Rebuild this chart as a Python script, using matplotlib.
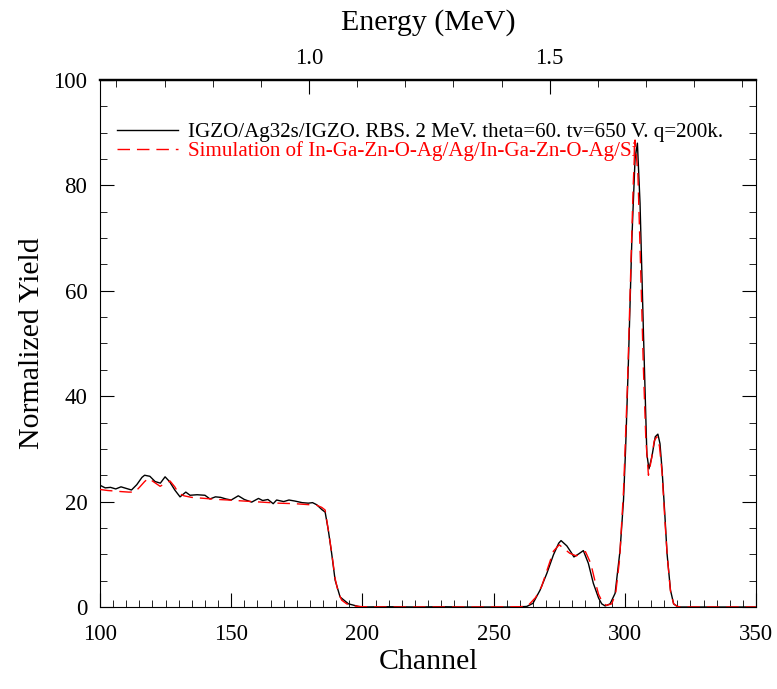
import numpy as np
import matplotlib
matplotlib.use('Agg')
import matplotlib.pyplot as plt

# Measured RBS spectrum (channel, normalized yield)
ch_meas = [100, 102, 104, 106, 108, 110, 112, 114, 116, 117, 119, 121, 123, 124.8, 126.5,
           128.5, 130.5, 132.7, 134.3, 137, 140, 141.9, 144, 146, 148, 150, 152.7, 155,
           157.8, 160.4, 162, 164, 166, 167.3, 170, 172, 174.3, 177, 179.4, 181, 182.6,
           184.5, 185.8, 187, 188.3, 189.6, 191.5, 194.7, 198.5, 200, 210, 220, 230, 240,
           250, 258, 262.6, 265, 267.7, 270.3, 272.8, 274.8, 275.7, 277.9, 279.5, 280.6,
           282.5, 284.2, 286.1, 288, 290, 291.2, 292.5, 294.4, 296.3, 298.2, 299.5, 300.3,
           301.4, 302.7, 303.9, 304.8, 305.8, 307.1, 308.4, 309.2, 310.3, 311.6, 312.6,
           313.4, 314.2, 315.2, 316.1, 317.4, 318.6, 320, 321.2, 330, 340, 350]
y_meas = [23.1, 22.6, 22.7, 22.4, 22.8, 22.5, 22.2, 23.2, 24.6, 25.0, 24.8, 23.8, 23.5, 24.7, 23.8,
          22.2, 20.9, 21.8, 21.2, 21.3, 21.2, 20.5, 20.9, 20.8, 20.5, 20.3, 21.1, 20.4,
          19.9, 20.6, 20.2, 20.4, 19.6, 20.3, 20.0, 20.3, 20.1, 19.8, 19.7, 19.8, 19.4,
          18.5, 18.0, 14.6, 10.1, 5.1, 1.9, 0.6, 0.1, 0.0, 0.05, 0.0, 0.05, 0.0,
          0.0, 0.0, 0.1, 0.7, 3.2, 6.4, 9.9, 12.1, 12.6, 11.6, 10.4, 9.5,
          10.1, 10.7, 8.3, 4.5, 1.7, 0.6, 0.2, 0.6, 2.6, 10.8, 20.3, 30.0,
          47.0, 70.0, 85.0, 88.0, 76.6, 52.0, 29.0, 26.2, 28.5, 32.3, 32.8,
          31.0, 26.0, 18.0, 10.1, 3.2, 0.6, 0.1, 0.0, 0.0, 0.0, 0.0]

# Simulated spectrum
ch_sim = [100, 103, 105.7, 108, 111, 113.3, 115.2, 117, 118.4, 120, 122.9, 125, 126.7, 128.5,
          129.9, 132, 134.9, 140, 145, 148.9, 155, 161.6, 168, 174.3, 180, 182.6, 184.5,
          185.8, 187, 188.3, 189.6, 190.8, 192.1, 194, 197, 200, 210, 230, 250, 260, 263,
          266, 268.3, 270.5, 272.8, 275, 277, 279, 281.5, 283.5, 285, 287, 288.5, 290, 291.5,
          293, 295, 296.5, 298, 299.5, 301, 302.5, 303.2, 303.9, 305, 306.5, 307.1, 308, 309,
          310.2, 311.2, 312.2, 313.2, 314.2, 315.2, 316.2, 317.4, 318.6, 320, 322, 330,
          340, 350]
y_sim = [22.3, 22.1, 22.0, 21.9, 21.8, 21.8, 22.8, 23.8, 24.4, 23.9, 22.9, 23.5, 23.9, 22.8,
         21.6, 21.1, 20.8, 20.6, 20.4, 20.3, 20.1, 19.9, 19.7, 19.6, 19.4, 19.3, 18.9,
         18.4, 14.6, 10.3, 5.4, 2.8, 1.3, 0.6, 0.2, 0.05, 0.0, 0.0, 0.0, 0.05, 0.2,
         1.8, 3.9, 7.2, 10.6, 11.8, 11.0, 10.2, 9.7, 10.2, 10.5, 8.3, 5.2, 2.4, 0.9,
         0.3, 0.6, 2.5, 9.0, 22.0, 42.0, 68.0, 80.0, 88.6, 82.0, 56.0, 45.0, 32.0, 25.0,
         28.2, 31.5, 32.3, 30.5, 25.5, 17.0, 9.5, 3.0, 0.6, 0.1, 0.0, 0.0,
         0.0, 0.0]

label_meas = 'IGZO/Ag32s/IGZO. RBS. 2 MeV. theta=60. tv=650 V. q=200k.'
label_sim = 'Simulation of In-Ga-Zn-O-Ag/Ag/In-Ga-Zn-O-Ag/Si'

# energy calibration: E = a + b * channel
cal_a = 0.021
cal_b = 0.00545

plt.rcParams['font.family'] = ['Liberation Serif', 'DejaVu Serif']

fig = plt.figure(figsize=(7.77, 6.89), dpi=100)
ax = fig.add_axes([0.1287, 0.119, 0.8443, 0.765])

ax.plot(ch_meas, y_meas, color='black', lw=1.0, label=label_meas, zorder=3)
ax.plot(ch_sim, y_sim, color='red', lw=1.0, dashes=[9, 5], label=label_sim, zorder=3)

ax.set_xlim(100, 350)
ax.set_ylim(0, 100)
ax.set_xticks(np.arange(100, 351, 50))
ax.set_xticks(np.arange(100, 351, 5), minor=True)
ax.set_yticks(np.arange(0, 101, 20))
ax.set_yticks(np.arange(0, 101, 5), minor=True)
ax.tick_params(which='both', direction='in', right=True, labelsize=16.5)
ax.tick_params(axis='x', which='major', length=10, pad=12)
ax.tick_params(axis='y', which='major', length=10, pad=9)
ax.tick_params(which='minor', length=5)
ax.spines['top'].set_linewidth(1.6)
ax.set_xlabel('Channel', fontsize=21.5, labelpad=3)
ax.set_ylabel('Normalized Yield', fontsize=21.5, labelpad=6)

# top energy axis
top = ax.secondary_xaxis('top', functions=(lambda c: cal_a + cal_b * c,
                                           lambda e: (e - cal_a) / cal_b))
top.set_xticks([1.0, 1.5])
top.set_xticklabels(['1.0', '1.5'])
top.set_xticks(np.arange(0.6, 1.95, 0.1), minor=True)
top.tick_params(which='major', direction='in', length=10, labelsize=16.5, pad=8)
top.tick_params(which='minor', direction='in', length=5)
top.spines['top'].set_linewidth(1.6)
top.set_xlabel('Energy (MeV)', fontsize=21.5, labelpad=13)

leg = ax.legend(loc='upper left', bbox_to_anchor=(0.013, 0.935), frameon=False,
                fontsize=15.1, handlelength=2.9, handletextpad=0.48, labelspacing=-0.05,
                borderaxespad=0)
leg.get_texts()[1].set_color('red')
leg.set_zorder(2)

fig.savefig('out.png', dpi=100)
